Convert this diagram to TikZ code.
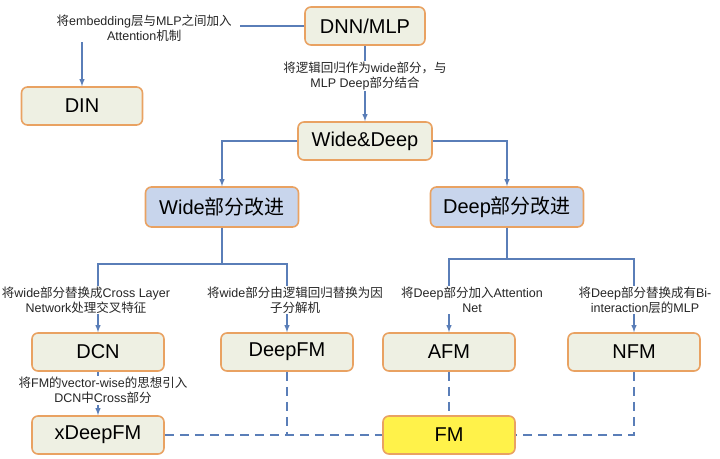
\documentclass[tikz,border=0pt]{standalone}
\usepackage{fontspec}
\setmainfont{Liberation Sans}
\newfontfamily\cjkfont{Noto Sans CJK SC}
\newcommand{\zh}[1]{{\cjkfont #1}}
\usetikzlibrary{arrows}
\definecolor{boxfill}{HTML}{EEF0E3}
\definecolor{boxedge}{HTML}{E9A262}
\definecolor{bluefill}{HTML}{C8D5EC}
\definecolor{fmfill}{HTML}{FFF24A}
\definecolor{linkblue}{HTML}{5A7EB8}

\begin{document}
\begin{tikzpicture}[x=1pt,y=1pt]
    \tikzstyle{box} = [rectangle, rounded corners=6pt, draw=boxedge, line width=1.6pt, fill=boxfill, minimum width=132pt, minimum height=38pt, font=\fontsize{20}{24}\selectfont]
    \tikzstyle{bluebox} = [box, fill=bluefill, minimum width=153pt, minimum height=40pt]
    \tikzstyle{fmbox} = [box, fill=fmfill]
    \tikzstyle{note} = [align=center, fill=white, inner sep=1pt, text=black!85, font=\fontsize{12.5}{15}\selectfont]
    \tikzstyle{arrow} = [-latex, draw=linkblue, line width=1.4pt]
    \tikzstyle{dashlink} = [draw=linkblue, line width=1.4pt, dash pattern=on 9pt off 6pt]
    \useasboundingbox (0,0) rectangle (720,-458);
    \node (dnn) [box, minimum width=120pt] at (365,-26) {DNN/MLP};
    \node (din) [box, minimum width=121pt, below of=dnn, node distance=80pt, xshift=-283pt] {DIN};
    \node (wd) [box, minimum width=134pt, below of=dnn, node distance=115pt] {Wide\&Deep};
    \node (wide) [bluebox, below of=wd, node distance=66pt, xshift=-143pt] {Wide\zh{部分改进}};
    \node (deep) [bluebox, below of=wd, node distance=66pt, xshift=142pt] {Deep\zh{部分改进}};
    \node (dcn) [box, below of=wide, node distance=145pt, xshift=-124pt] {DCN};
    \node (deepfm) [box, below of=wide, node distance=145pt, xshift=65pt] {DeepFM};
    \node (afm) [box, below of=deep, node distance=145pt, xshift=-58pt] {AFM};
    \node (nfm) [box, below of=deep, node distance=145pt, xshift=127pt] {NFM};
    \node (xdeepfm) [box, below of=dcn, node distance=83pt] {xDeepFM};
    \node (fm) [fmbox, below of=afm, node distance=83pt] {FM};
    \draw [arrow] (dnn) -| node[note, pos=0.36, inner xsep=8pt, yshift=-2pt] {\zh{将}embedding\zh{层与}MLP\zh{之间加入}\\Attention\zh{机制}} (din);
    \draw [arrow] (dnn) -- node[note, pos=0.4] {\zh{将逻辑回归作为}wide\zh{部分，与}\\MLP Deep\zh{部分结合}} (wd);
    \draw [arrow] (wd) -| (wide);
    \draw [arrow] (wd) -| (deep);
    \draw [arrow] (wide.south) -- ++(0,-36) -| node[note, pos=0.765, xshift=-12pt] {\zh{将}wide\zh{部分替换成}Cross Layer\\Network\zh{处理交叉特征}} (dcn);
    \draw [arrow] (wide.south) -- ++(0,-36) -| node[note, pos=0.765, xshift=8pt] {\zh{将}wide\zh{部分由逻辑回归替换为因}\\\zh{子分解机}} (deepfm);
    \draw [arrow] (deep.south) -- ++(0,-31) -| node[note, pos=0.78, xshift=23pt] {\zh{将}Deep\zh{部分加入}Attention\\Net} (afm);
    \draw [arrow] (deep.south) -- ++(0,-31) -| node[note, pos=0.78, xshift=11pt] {\zh{将}Deep\zh{部分替换成有}Bi-\\interaction\zh{层的}MLP} (nfm);
    \draw [arrow] (dcn) -- node[note, xshift=5pt, yshift=3pt] {\zh{将}FM\zh{的}vector-wise\zh{的思想引入}\\DCN\zh{中}Cross\zh{部分}} (xdeepfm);
    \draw [dashlink] (xdeepfm) -- (fm);
    \draw [dashlink] (deepfm) -- (deepfm |- fm);
    \draw [dashlink] (afm) -- (fm);
    \draw [dashlink] (nfm) |- (fm);
\end{tikzpicture}
\end{document}
